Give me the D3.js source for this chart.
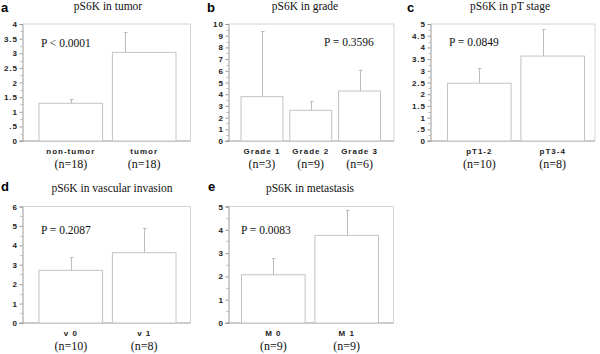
<!DOCTYPE html>
<html><head><meta charset="utf-8">
<script src="https://cdn.jsdelivr.net/npm/d3@7"></script>
<style>
body{margin:0;background:#fff;}
svg{display:block;}
.tk text{font-family:"Liberation Sans",Arial,sans-serif;font-size:8px;font-weight:bold;fill:#222;letter-spacing:1px;}
</style></head>
<body><svg id="c" width="600" height="354"></svg>
<script>
// ---- data ----
const tumorCats = ["non-tumor", "tumor"];
const tumorN = ["(n=18)", "(n=18)"];
const tumorMean = [1.29, 3.03];
const tumorErr = [1.44, 3.72];

const gradeCats = ["Grade 1", "Grade 2", "Grade 3"];
const gradeN = ["(n=3)", "(n=9)", "(n=6)"];
const gradeMean = [3.79, 2.62, 4.27];
const gradeErr = [9.4, 3.42, 6.1];

const stageCats = ["pT1-2", "pT3-4"];
const stageN = ["(n=10)", "(n=8)"];
const stageMean = [2.47, 3.63];
const stageErr = [3.1, 4.77];

const vascCats = ["v 0", "v 1"];
const vascN = ["(n=10)", "(n=8)"];
const vascMean = [2.71, 3.62];
const vascErr = [3.38, 4.9];

const metaCats = ["M 0", "M 1"];
const metaN = ["(n=9)", "(n=9)"];
const metaMean = [2.07, 3.76];
const metaErr = [2.79, 4.86];

const tumorTicks = [0, 0.5, 1, 1.5, 2, 2.5, 3, 3.5, 4];
const gradeTicks = [0, 1, 2, 3, 4, 5, 6, 7, 8, 9, 10];
const stageTicks = [0, 0.5, 1, 1.5, 2, 2.5, 3, 3.5, 4, 4.5, 5];
const vascTicks = [0, 1, 2, 3, 4, 5, 6];
const metaTicks = [0, 1, 2, 3, 4, 5];

const panels = [
  {letter:"a", title:"pS6K in tumor", p:"P < 0.0001", cats:tumorCats, n:tumorN, mean:tumorMean, err:tumorErr, ticks:tumorTicks, max:4, minor:0.25},
  {letter:"b", title:"pS6K in grade", p:"P = 0.3596", cats:gradeCats, n:gradeN, mean:gradeMean, err:gradeErr, ticks:gradeTicks, max:10, minor:0.5},
  {letter:"c", title:"pS6K in pT stage", p:"P = 0.0849", cats:stageCats, n:stageN, mean:stageMean, err:stageErr, ticks:stageTicks, max:5, minor:0.25},
  {letter:"d", title:"pS6K in vascular invasion", p:"P = 0.2087", cats:vascCats, n:vascN, mean:vascMean, err:vascErr, ticks:vascTicks, max:6, minor:0.5},
  {letter:"e", title:"pS6K in metastasis", p:"P = 0.0083", cats:metaCats, n:metaN, mean:metaMean, err:metaErr, ticks:metaTicks, max:5, minor:0.5}
];

// ---- layout (positions/sizes) ----
const layout = [
  {x0:22.5, x1:190.5, y0:24, y1:141, bl:16, br:14, lx:1, ly:12, tx:108, ty:10, px:41, py:47, errShift:[0,-19]},
  {x0:228.5, x1:394, y0:24, y1:141, bl:12, br:13, lx:207, ly:12, tx:305, ty:10, px:324, py:46, errShift:[0,0,0]},
  {x0:430.5, x1:595, y0:24, y1:141, bl:16.5, br:10, lx:407, ly:12, tx:510, ty:10, px:449, py:46, errShift:[0,-10]},
  {x0:22.5, x1:190.5, y0:206.5, y1:323, bl:16, br:14, lx:1, ly:191, tx:112, ty:192, px:41, py:234, errShift:[0,0]},
  {x0:228.5, x1:393.5, y0:206.5, y1:323, bl:12.5, br:14.5, lx:208, ly:191, tx:310, ty:192, px:241, py:234, errShift:[0,0]}
];

const svg = d3.select("#c");
const fmt = d => d === 0 ? "0" : String(d).replace(/^0\./, ".");

panels.forEach((P, i) => {
  const L = layout[i];
  const g = svg.append("g");
  const y = d3.scaleLinear().domain([0, P.max]).range([L.y1, L.y0]);
  const x = d3.scaleBand().domain(P.cats).range([L.x0 + L.bl, L.x1 - L.br]).paddingInner(0.12);

  // frame top/right
  g.append("path").attr("d", `M${L.x0},${L.y0}H${L.x1}V${L.y1}`)
    .attr("fill", "none").attr("stroke", "#d4d4d4").attr("stroke-width", 1);

  // minor ticks
  const minorVals = d3.range(0, P.max + 1e-9, P.minor).filter(v => !P.ticks.some(t => Math.abs(t - v) < 1e-9));
  g.selectAll("line.mn").data(minorVals).join("line")
    .attr("x1", L.x0 - 2).attr("x2", L.x0).attr("y1", d => Math.round(y(d)) + 0.5).attr("y2", d => Math.round(y(d)) + 0.5)
    .attr("stroke", "#bbb");

  // y axis
  const ax = g.append("g").attr("class", "tk").attr("transform", `translate(${L.x0},0)`)
    .call(d3.axisLeft(y).tickValues(P.ticks).tickFormat(fmt).tickSize(3).tickPadding(1.5));
  ax.select(".domain").attr("stroke", "#999");
  ax.selectAll(".tick line").attr("stroke", "#999");

  // bottom axis line
  g.append("line").attr("x1", L.x0 - 3).attr("x2", L.x1).attr("y1", L.y1).attr("y2", L.y1).attr("stroke", "#999");

  // bars
  g.selectAll("rect.bar").data(P.mean).join("rect")
    .attr("x", (d, j) => x(P.cats[j]) + 0.5).attr("width", x.bandwidth() - 1)
    .attr("y", d => y(d)).attr("height", d => L.y1 - y(d))
    .attr("fill", "#fff").attr("stroke", "#c4c4c4");

  // error bars
  P.err.forEach((e, j) => {
    const cx = Math.round(x(P.cats[j]) + x.bandwidth() / 2 + L.errShift[j]) + 0.5;
    g.append("line").attr("x1", cx).attr("x2", cx).attr("y1", y(P.mean[j])).attr("y2", y(e)).attr("stroke", "#bbb");
    g.append("line").attr("x1", cx - 1.5).attr("x2", cx + 2).attr("y1", Math.round(y(e)) + 0.5).attr("y2", Math.round(y(e)) + 0.5).attr("stroke", "#bbb");
  });

  // category labels
  g.selectAll("text.cat").data(P.cats).join("text")
    .attr("x", d => x(d) + x.bandwidth() / 2).attr("y", L.y1 + 13)
    .attr("text-anchor", "middle").style("white-space", "pre").style("letter-spacing", "1px")
    .attr("font-family", "Liberation Sans, Arial, sans-serif").attr("font-weight", "bold").attr("font-size", 8).attr("fill", "#222")
    .text(d => d);
  g.selectAll("text.n").data(P.n).join("text")
    .attr("x", (d, j) => x(P.cats[j]) + x.bandwidth() / 2).attr("y", L.y1 + 27)
    .attr("text-anchor", "middle")
    .attr("font-family", "Liberation Serif, Times New Roman, serif").attr("font-size", 12).attr("fill", "#111")
    .text(d => d);

  // title, letter, p
  g.append("text").attr("x", L.tx).attr("y", L.ty).attr("text-anchor", "middle")
    .attr("font-family", "Liberation Serif, Times New Roman, serif").attr("font-size", 11.5).attr("fill", "#111").text(P.title);
  g.append("text").attr("x", L.lx).attr("y", L.ly)
    .attr("font-family", "Liberation Sans, Arial, sans-serif").attr("font-weight", "bold").attr("font-size", 13).attr("fill", "#000").text(P.letter);
  g.append("text").attr("x", L.px).attr("y", L.py)
    .attr("font-family", "Liberation Serif, Times New Roman, serif").attr("font-size", 11.5).attr("fill", "#111").text(P.p);
});
</script></body></html>
